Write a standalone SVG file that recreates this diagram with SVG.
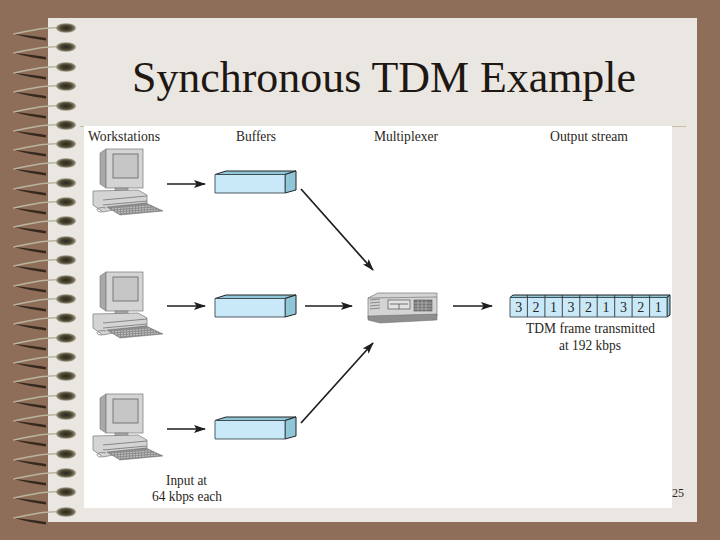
<svg xmlns="http://www.w3.org/2000/svg" xmlns:xlink="http://www.w3.org/1999/xlink" width="720" height="540" viewBox="0 0 720 540">
<style>
text{font-family:"Liberation Serif","Times New Roman",serif;fill:#2a2622}
.l{font-size:14px}
.m{text-anchor:middle}
.c{stroke:#1e1e1e;stroke-width:1.7;fill:none;marker-end:url(#a)}
.b{fill:#c9e9f8;stroke:#3c4a50;stroke-width:.9;stroke-linejoin:round}
.s{fill:#8fc6d8;stroke:#222;stroke-width:1;stroke-linejoin:round}
.g1{fill:#d4d4d4;stroke:#777;stroke-width:.7}
.g2{fill:#a9a9a9;stroke:#777;stroke-width:.6}
.g3{fill:#8e8e8e;stroke:#666;stroke-width:.5}
.w{fill:none;stroke-linecap:round}
</style>
<defs>
<marker id="a" markerUnits="userSpaceOnUse" markerWidth="13" markerHeight="9" refX="11" refY="4.500" orient="auto"><path d="M0 0.500L12 4.500L0 8.500L2.500 4.500Z" fill="#1e1e1e"/></marker>
<radialGradient id="bead"><stop offset="0" stop-color="#2a2618"/><stop offset=".6" stop-color="#4f4936"/><stop offset="1" stop-color="#a8a48f"/></radialGradient>
<g id="ring">
<path class="w" d="M58 0C48 -1 32 2 14 6" stroke="#b9b49f" stroke-width="1.5"/>
<path d="M14 6C24 7 36 8 46 10L46 12.500C34 11 24 9 14 6Z" fill="#35291e"/>
<ellipse cx="66" cy="0" rx="10" ry="4.800" fill="url(#bead)"/>
</g>
<g id="pc">
<path class="g2" d="M100 153L106 149L106 188L100 184Z"/>
<rect class="g1" x="106" y="149" width="37" height="39"/>
<rect x="113" y="154" width="25" height="24" fill="#c6c6c6" stroke="#777"/>
<rect class="g2" x="115" y="188" width="13" height="3"/>
<path class="g1" d="M93 191L138 190L147 195L147 203L103 212L93 205Z"/>
<path d="M103 200L147 196M103 205L147 201" stroke="#666" stroke-width=".7" fill="none"/>
<path class="g3" d="M107 207L146 203L163 211L120 215Z"/>
<path d="M112 209L150 206M115 211L155 208M118 213L158 210" stroke="#ddd" stroke-width=".7" stroke-dasharray="2 1" fill="none"/>
<path d="M106 208C96 206 94 212 102 212" fill="none" stroke="#777" stroke-width=".8"/>
</g>
<g id="buf">
<path class="s" d="M215 174.500L226 171L296 171L285 174.500Z"/>
<path class="s" d="M285 174.500L296 171L296 190L285 193Z"/>
<rect class="b" x="215" y="174.500" width="70" height="18.500"/>
</g>
</defs>

<rect width="720" height="540" fill="#8f6e59"/>
<rect x="48" y="18" width="649" height="504" fill="#eae6e1"/>
<path d="M672 126.500H686M80 126.500H84" stroke="#c9bda0" stroke-width="1"/>
<rect x="84" y="126" width="588" height="382" fill="#fff"/>

<g id="spiral">
<use xlink:href="#ring" y="28"/><use xlink:href="#ring" y="47"/><use xlink:href="#ring" y="67"/><use xlink:href="#ring" y="86"/><use xlink:href="#ring" y="106"/><use xlink:href="#ring" y="125"/><use xlink:href="#ring" y="144"/><use xlink:href="#ring" y="163"/><use xlink:href="#ring" y="183"/><use xlink:href="#ring" y="202"/><use xlink:href="#ring" y="221"/><use xlink:href="#ring" y="241"/><use xlink:href="#ring" y="260"/><use xlink:href="#ring" y="280"/><use xlink:href="#ring" y="299"/><use xlink:href="#ring" y="318"/><use xlink:href="#ring" y="338"/><use xlink:href="#ring" y="357"/><use xlink:href="#ring" y="376"/><use xlink:href="#ring" y="396"/><use xlink:href="#ring" y="415"/><use xlink:href="#ring" y="434"/><use xlink:href="#ring" y="454"/><use xlink:href="#ring" y="473"/><use xlink:href="#ring" y="492"/><use xlink:href="#ring" y="512"/>
</g>

<text id="title" x="132" y="92" font-size="44" textLength="504" lengthAdjust="spacingAndGlyphs" style="fill:#1f1712">Synchronous TDM Example</text>

<g id="labels" class="l">
<text x="88" y="141" textLength="72" lengthAdjust="spacingAndGlyphs">Workstations</text>
<text x="236" y="141" textLength="40" lengthAdjust="spacingAndGlyphs">Buffers</text>
<text x="374" y="141" textLength="64" lengthAdjust="spacingAndGlyphs">Multiplexer</text>
<text x="550" y="141" textLength="78" lengthAdjust="spacingAndGlyphs">Output stream</text>
<text x="166" y="485" textLength="41" lengthAdjust="spacingAndGlyphs">Input at</text>
<text x="152" y="501" textLength="70" lengthAdjust="spacingAndGlyphs">64 kbps each</text>
<text x="526" y="333" textLength="129" lengthAdjust="spacingAndGlyphs">TDM frame transmitted</text>
<text x="559" y="350" textLength="62" lengthAdjust="spacingAndGlyphs">at 192 kbps</text>
<text x="678" y="497" class="m" style="font-size:12px">25</text>
</g>

<g id="workstation1"><use xlink:href="#pc"/></g>
<g id="workstation2"><use xlink:href="#pc" y="123"/></g>
<g id="workstation3"><use xlink:href="#pc" y="245"/></g>
<g id="buffer1"><use xlink:href="#buf"/></g>
<g id="buffer2"><use xlink:href="#buf" y="124"/></g>
<g id="buffer3"><use xlink:href="#buf" y="246"/></g>

<g id="multiplexer">
<path class="g1" d="M368 298L378 293L437 293L437 316L368 318Z"/>
<path class="g3" d="M368 316L437 314L437 320L380 323L368 320Z"/>
<path d="M368 298L437 297" stroke="#777" stroke-width=".7"/>
<rect x="388" y="300" width="22" height="9" fill="#e2e2e2" stroke="#555" stroke-width=".7"/>
<path d="M390 304H408M399 304V309" stroke="#555" stroke-width=".8"/>
<rect x="414" y="300" width="18" height="11" fill="#777" stroke="#555" stroke-width=".6"/>
<path d="M414 303H432M414 306H432M414 309H432M418 300V311M422 300V311M426 300V311" stroke="#ccc" stroke-width=".5"/>
<path d="M370 300L380 299M370 303L380 302M370 306L380 305M370 309L380 308" stroke="#666" stroke-width=".7"/>
</g>

<g id="frame">
<path class="s" d="M510 297.500L513 295L670 295L667 297.500Z"/>
<path class="s" d="M667 297.500L670 295L670 315L667 317Z"/>
<rect class="b" x="510" y="297.500" width="157" height="19.500"/>
<path d="M527.400 295V317M544.900 295V317M562.300 295V317M579.800 295V317M597.200 295V317M614.700 295V317M632.100 295V317M649.600 295V317" stroke="#333" stroke-width=".9"/>
<g class="l m">
<text x="518.700" y="312">3</text><text x="536.100" y="312">2</text><text x="553.600" y="312">1</text><text x="571" y="312">3</text><text x="588.500" y="312">2</text><text x="605.900" y="312">1</text><text x="623.400" y="312">3</text><text x="640.800" y="312">2</text><text x="658.300" y="312">1</text>
</g>
</g>

<g id="connectors">
<path class="c" d="M167 184H205"/>
<path class="c" d="M167 306H205"/>
<path class="c" d="M167 429H205"/>
<path class="c" d="M305 306H352"/>
<path class="c" d="M453 306H492"/>
<path class="c" d="M301 189L373 270"/>
<path class="c" d="M301 423L373 343"/>
</g>
</svg>
